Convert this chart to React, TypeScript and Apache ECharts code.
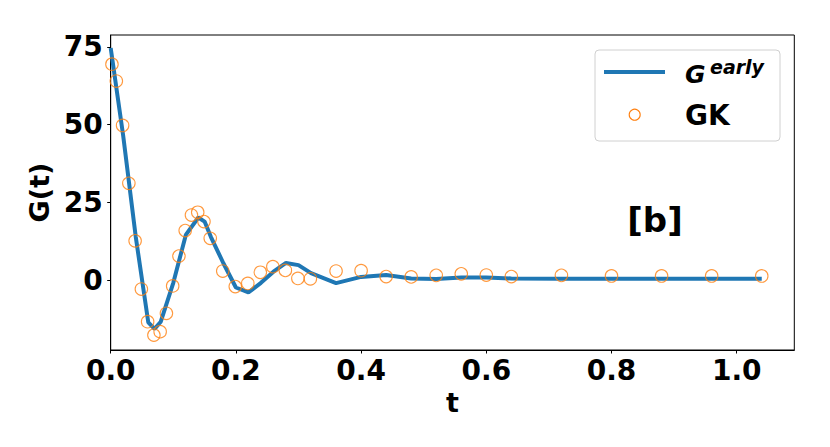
import React, { useEffect, useRef } from "react";
import * as echarts from "echarts";

// G^early curve
const lineT = [0, 0.02, 0.04, 0.06, 0.07, 0.08, 0.10, 0.12, 0.14, 0.15, 0.16, 0.18, 0.20, 0.22, 0.24, 0.26, 0.28, 0.30, 0.32, 0.36, 0.40, 0.44, 0.48, 0.52, 0.56, 0.60, 0.64, 0.72, 0.80, 0.88, 0.96, 1.04];
const lineG = [74.6, 46.3, 13.9, -13.6, -15.7, -13.4, -0.9, 14.5, 20.1, 18.8, 13.9, 5.4, -2.4, -4.0, -0.9, 2.7, 5.5, 4.8, 2.2, -1.0, 1.0, 1.6, 0.5, 0.3, 0.8, 0.8, 0.5, 0.4, 0.4, 0.4, 0.4, 0.4];

// GK points
const gkT = [0.002, 0.009, 0.019, 0.029, 0.039, 0.049, 0.059, 0.069, 0.079, 0.089, 0.099, 0.109, 0.119, 0.129, 0.139, 0.149, 0.159, 0.179, 0.199, 0.219, 0.239, 0.259, 0.279, 0.299, 0.319, 0.36, 0.40, 0.44, 0.48, 0.52, 0.56, 0.60, 0.64, 0.72, 0.80, 0.88, 0.96, 1.04];
const gkG = [69.4, 64.0, 49.7, 31.1, 12.6, -2.9, -13.4, -17.7, -16.6, -10.7, -1.9, 7.7, 15.9, 20.9, 21.8, 18.8, 13.4, 2.9, -2.1, -1.1, 2.5, 4.3, 3.1, 0.5, 0.4, 2.9, 3.0, 1.1, 1.0, 1.5, 2.0, 1.6, 1.1, 1.5, 1.3, 1.3, 1.3, 1.3];

const xTicks = [0, 0.2, 0.4, 0.6, 0.8, 1.0];
const yTicks = [0, 25, 50, 75];

const FONT = "DejaVu Sans";
const BLUE = "#1f77b4";
const ORANGE = "#ff7f0e";

export default function App() {
  const ref = useRef<HTMLDivElement>(null);
  useEffect(() => {
    const chart = echarts.init(ref.current!, null, { renderer: "svg" });
    const labelStyle = { fontFamily: FONT, fontWeight: "bold" as const, fontSize: 28, color: "#000" };
    chart.setOption({
      animation: false,
      backgroundColor: "#fff",
      grid: { left: 110.7, right: 35.7, top: 35, bottom: 97, show: true, borderColor: "#000", borderWidth: 1 },
      xAxis: {
        type: "value",
        min: 0,
        max: 1.092,
        name: "t",
        nameLocation: "middle",
        nameGap: 34,
        nameTextStyle: { fontFamily: FONT, fontWeight: "bold", fontSize: 27, color: "#000" },
        axisLine: { show: true, onZero: false, lineStyle: { color: "#000", width: 1 } },
        axisTick: { show: true, length: 3.5, customValues: xTicks, lineStyle: { color: "#000", width: 1 } },
        axisLabel: { ...labelStyle, margin: 6, customValues: xTicks, formatter: (v: number) => v.toFixed(1) },
        splitLine: { show: false },
      },
      yAxis: {
        type: "value",
        min: -22.5,
        max: 78.8,
        name: "G(t)",
        nameLocation: "middle",
        nameGap: 52,
        nameTextStyle: { fontFamily: FONT, fontWeight: "bold", fontSize: 27, color: "#000" },
        axisLine: { show: true, onZero: false, lineStyle: { color: "#000", width: 1 } },
        axisTick: { show: true, length: 3.5, customValues: yTicks, lineStyle: { color: "#000", width: 1 } },
        axisLabel: { ...labelStyle, margin: 8, customValues: yTicks, formatter: (v: number) => String(v) },
        splitLine: { show: false },
      },
      series: [
        {
          name: "G early",
          type: "line",
          data: lineT.map((t, i) => [t, lineG[i]]),
          showSymbol: false,
          symbol: "none",
          lineStyle: { color: BLUE, width: 4 },
          z: 2,
        },
        {
          name: "GK",
          type: "scatter",
          data: gkT.map((t, i) => [t, gkG[i]]),
          symbol: "circle",
          symbolSize: 12.5,
          itemStyle: { color: "rgba(255,255,255,0)", borderColor: ORANGE, borderWidth: 1.1 },
          z: 3,
        },
      ],
      graphic: [
        {
          type: "rect",
          shape: { x: 595, y: 50, width: 185, height: 91, r: 4 },
          style: { fill: "rgba(255,255,255,0.8)", stroke: "#d0d0d0", lineWidth: 1 },
          z: 10,
        },
        {
          type: "line",
          shape: { x1: 604, y1: 72, x2: 665, y2: 72 },
          style: { stroke: BLUE, lineWidth: 4 },
          z: 11,
        },
        {
          type: "circle",
          shape: { cx: 634.7, cy: 114.7, r: 5.5 },
          style: { fill: "none", stroke: ORANGE, lineWidth: 1.1 },
          z: 11,
        },
        {
          type: "text",
          x: 685,
          y: 74,
          style: { text: "G", font: `italic bold 25px '${FONT}'`, fill: "#000", verticalAlign: "middle", align: "left" },
          z: 11,
        },
        {
          type: "text",
          x: 710,
          y: 66.5,
          style: { text: "early", font: `italic bold 19px '${FONT}'`, fill: "#000", verticalAlign: "middle", align: "left" },
          z: 11,
        },
        {
          type: "text",
          x: 685,
          y: 115,
          style: { text: "GK", font: `bold 28px '${FONT}'`, fill: "#000", verticalAlign: "middle", align: "left" },
          z: 11,
        },
        {
          type: "text",
          x: 655,
          y: 220,
          style: { text: "[b]", font: `bold 34px '${FONT}'`, fill: "#000", verticalAlign: "middle", align: "center" },
          z: 11,
        },
      ],
    });
    return () => chart.dispose();
  }, []);
  return <div ref={ref} style={{ position: "fixed", left: 0, top: 0, width: 830, height: 447 }} />;
}
